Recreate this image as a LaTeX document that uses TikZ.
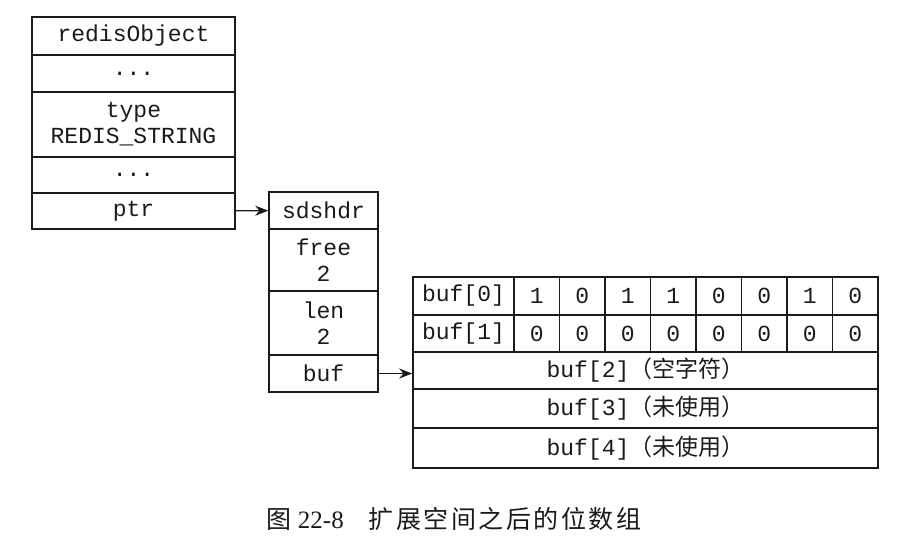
\documentclass[tikz,border=0pt]{standalone}
\usepackage{fontspec}
\setmainfont{Liberation Serif}
\setmonofont{Liberation Mono}
\newfontfamily\cjk{Noto Sans CJK SC}
\newfontfamily\cjkcap[LetterSpace=10]{Noto Sans CJK SC}
\usetikzlibrary{arrows.meta, positioning}
\usepackage{xcolor}
\definecolor{InkBlack}{HTML}{1A1A1A}

\begin{document}
\begin{tikzpicture}[x=1pt, y=-1pt,
            field/.style={rectangle, draw=InkBlack, line width=1.6pt, inner sep=0pt, align=center, text=InkBlack, font=\ttfamily\fontsize{23}{26}\selectfont},
            obj/.style={field, minimum width=203pt},
            sds/.style={field, minimum width=109pt},
            bufname/.style={field, minimum width=101pt},
            bit/.style={field, minimum width=45.5pt},
            wide/.style={field, minimum width=465pt},
            arrow/.style={-{Stealth[length=13pt, width=10pt]}, line width=1.3pt, color=InkBlack},
            captext/.style={text=InkBlack, font=\fontsize{25}{27}\selectfont}
        ]
            \useasboundingbox (0,0) rectangle (908,558);

            % redisObject
            \node[obj, minimum height=38pt] (obj) at (133.5,36) {redisObject};
            \node[obj, minimum height=37pt] (dotsa) at (133.5,73.5) {...};
            \node[obj, minimum height=65pt] (type) at (133.5,124.5) {type\\REDIS\_STRING};
            \node[obj, minimum height=36pt] (dotsb) at (133.5,175) {...};
            \node[obj, minimum height=36pt] (ptr) at (133.5,211) {ptr};

            % sdshdr
            \node[sds, minimum height=37pt] (sds) at (323.5,210.5) {sdshdr};
            \node[sds, minimum height=62pt] (free) at (323.5,260) {free\\2};
            \node[sds, minimum height=64pt] (len) at (323.5,323) {len\\2};
            \node[sds, minimum height=37pt] (buf) at (323.5,373.5) {buf};

            % bit array
            \node[bufname, minimum height=38pt] (bufa) at (463.5,296) {buf[0]};
            \node[bufname, minimum height=37pt] (bufb) at (463.5,333.5) {buf[1]};
            \foreach \b [count=\i from 0] in {1,0,1,1,0,0,1,0}
                \node[bit, minimum height=38pt] (hi\i) at (536.75+45.5*\i,296) {\b};
            \foreach \b [count=\i from 0] in {0,0,0,0,0,0,0,0}
                \node[bit, minimum height=37pt] (lo\i) at (536.75+45.5*\i,333.5) {\b};
            \node[wide, minimum height=37pt] (bufc) at (645.5,370.5) {buf[2]{\cjk （空字符）}};
            \node[wide, minimum height=39pt] (bufd) at (645.5,408.5) {buf[3]{\cjk （未使用）}};
            \node[wide, minimum height=40pt] (bufe) at (645.5,448) {buf[4]{\cjk （未使用）}};

            % pointers
            \draw[arrow] (ptr) -- (sds);
            \draw[arrow] (buf.east) -- (buf.east -| bufc.west);

            \node[captext] (caption) at (454,519) {{\cjkcap 图} 22-8\quad{\cjkcap 扩展空间之后的位数组}};
        \end{tikzpicture}
\end{document}
